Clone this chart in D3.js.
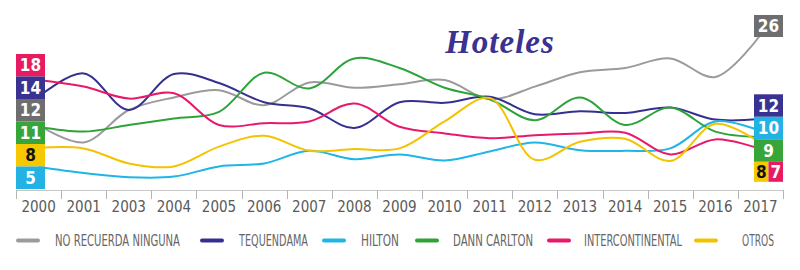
<!DOCTYPE html>
<html>
<head>
<meta charset="utf-8">
<script src="https://cdn.jsdelivr.net/npm/d3@7"></script>
<style>
  body { margin: 0; background: #fff; }
  svg { display: block; }
  .ax text { font-family: "Liberation Sans Narrow", "DejaVu Sans Condensed", sans-serif; font-size: 15px; fill: #5a5a5a; }
</style>
</head>
<body>
<div id="container"></div>
<script>
// years shown on the axis (2002 is not in the source)
var years = ["2000", "2001", "2003", "2004", "2005", "2006", "2007", "2008", "2009",
             "2010", "2011", "2012", "2013", "2014", "2015", "2016", "2017"];

var names = ["NO RECUERDA NINGUNA", "TEQUENDAMA", "HILTON", "DANN CARLTON", "INTERCONTINENTAL", "OTROS"];
var colors = ["#9b9b9b", "#35308f", "#1fb5e6", "#2ea33b", "#e8196a", "#f4c300"];
var boxColors = ["#6e6e6e", "#3a3290", "#22b3e4", "#38a53a", "#e61b62", "#f6c800"];

var noRecuerda = [11, 8.1, 13.5, 15.6, 16.8, 14.3, 18.1, 17.2, 17.8, 18.5, 15.3, 17.4, 19.8, 20.5, 22.1, 19, 26];
var tequendama = [15.7, 19.6, 13.5, 19.5, 18, 14.8, 13.8, 10.5, 14.8, 14.7, 15.7, 12.8, 13.3, 13, 13.9, 11.9, 12];
var hilton = [4, 3, 2.3, 2.4, 4.1, 4.6, 6.7, 5.3, 6.1, 5.1, 6.6, 8.1, 6.8, 6.7, 7.1, 11.6, 10];
var dannCarlton = [10.7, 9.9, 11, 12.1, 13.2, 19.7, 17.1, 22.1, 20.5, 17.2, 15.3, 11.8, 15.6, 11, 13.9, 9.9, 9];
var intercontinental = [18.5, 17.4, 15.4, 16.3, 11, 11.3, 11.6, 14.6, 10.7, 9.6, 8.8, 9.3, 9.6, 9.7, 6.1, 8.6, 7];
var otros = [7.2, 7.1, 4.6, 4.1, 7.4, 9.2, 6.7, 7, 7.1, 11.6, 15.5, 5.2, 8.2, 8.7, 5, 11.2, 8];

// numbers printed in the coloured boxes (series index, value)
var startLabels = [[4, 18], [1, 14], [0, 12], [3, 11], [5, 8], [2, 5]];
var endLabels = [[0, 26], [1, 12], [2, 10], [3, 9], [5, 8], [4, 7]];

var series = [noRecuerda, tequendama, hilton, dannCarlton, intercontinental, otros];

var width = 800, height = 270;
var svg = d3.select("#container").append("svg")
    .attr("width", width)
    .attr("height", height);

var x = d3.scaleBand().domain(years).range([16, 783]).padding(0);
var y = d3.scaleLinear().domain([0, 26]).range([191, 35]);
var cx = function(i) { return x(years[i]) + x.bandwidth() / 2; };

// title
svg.append("text")
    .attr("x", 500).attr("y", 53)
    .attr("text-anchor", "middle")
    .style("font-family", "'Liberation Serif', 'DejaVu Serif', serif")
    .style("font-style", "italic")
    .style("font-weight", "bold")
    .style("font-size", "33px")
    .style("letter-spacing", "1px")
    .style("fill", "#3a3290")
    .text("Hoteles");

// axis
var axis = svg.append("g")
    .attr("class", "ax")
    .attr("transform", "translate(0,190)")
    .call(d3.axisBottom(x).tickSize(0).tickPadding(11));
axis.select(".domain").remove();

var edges = years.map(function(d) { return x(d); }).concat([x.range()[1]]);
svg.append("line")
    .attr("x1", 16).attr("x2", 783)
    .attr("y1", 190.5).attr("y2", 190.5)
    .attr("stroke", "#c8c8c8").attr("stroke-width", 1);
svg.append("g").selectAll("line")
    .data(edges)
    .enter().append("line")
    .attr("x1", function(d) { return Math.round(d) + 0.5; })
    .attr("x2", function(d) { return Math.round(d) + 0.5; })
    .attr("y1", 190).attr("y2", 199)
    .attr("stroke", "#b5b5b5").attr("stroke-width", 1);

// lines
var line = d3.line()
    .x(function(d, i) { return cx(i); })
    .y(function(d) { return y(d); })
    .curve(d3.curveCatmullRom.alpha(0.5));

var order = [0, 1, 2, 3, 4, 5];
svg.append("g").selectAll("path")
    .data(order)
    .enter().append("path")
    .attr("d", function(k) { return line(series[k]); })
    .attr("fill", "none")
    .attr("stroke", function(k) { return colors[k]; })
    .attr("stroke-width", 2);

// value boxes
function box(g, bx, by, bw, bh, k, v) {
  g.append("rect")
    .attr("x", bx).attr("y", by)
    .attr("width", bw).attr("height", bh)
    .attr("fill", boxColors[k]);
  g.append("text")
    .attr("x", bx + bw / 2).attr("y", by + bh / 2 + 6)
    .attr("text-anchor", "middle")
    .style("font-family", "'Liberation Sans Narrow', 'DejaVu Sans Condensed', sans-serif")
    .style("font-weight", "bold")
    .style("font-size", "17px")
    .style("fill", k === 5 ? "#111" : "#fff")
    .text(v);
}

var boxes = svg.append("g");
startLabels.forEach(function(d, i) {
  box(boxes, 16, 54 + i * 22.5, 29, 22.5, d[0], d[1]);
});

box(boxes, 754, 15, 29, 22, endLabels[0][0], endLabels[0][1]);
for (var i = 1; i < 4; i++) {
  box(boxes, 754, 94.3 + (i - 1) * 22.5, 29, 22.5, endLabels[i][0], endLabels[i][1]);
}
box(boxes, 754, 161.8, 14.5, 20, endLabels[4][0], endLabels[4][1]);
box(boxes, 768.5, 161.8, 14.5, 20, endLabels[5][0], endLabels[5][1]);

// legend
var legendX = [16, 200, 322, 415, 547, 694];
var legendTextX = [55, 239, 361, 453, 584, 742];
var legendW = [125, 69, 38, 80, 98, 32];
var legend = svg.append("g").selectAll("g")
    .data(names)
    .enter().append("g");
legend.append("line")
    .attr("x1", function(d, i) { return legendX[i] + 2; })
    .attr("x2", function(d, i) { return legendX[i] + 22; })
    .attr("y1", 240.5).attr("y2", 240.5)
    .attr("stroke", function(d, i) { return colors[i]; })
    .attr("stroke-width", 4)
    .attr("stroke-linecap", "round");
legend.append("text")
    .attr("x", function(d, i) { return legendTextX[i]; })
    .attr("y", 246)
    .attr("textLength", function(d, i) { return legendW[i]; })
    .attr("lengthAdjust", "spacingAndGlyphs")
    .style("font-family", "'Liberation Sans Narrow', 'DejaVu Sans Condensed', sans-serif")
    .style("font-size", "15px")
    .style("fill", "#666")
    .text(function(d) { return d; });
</script>
</body>
</html>
